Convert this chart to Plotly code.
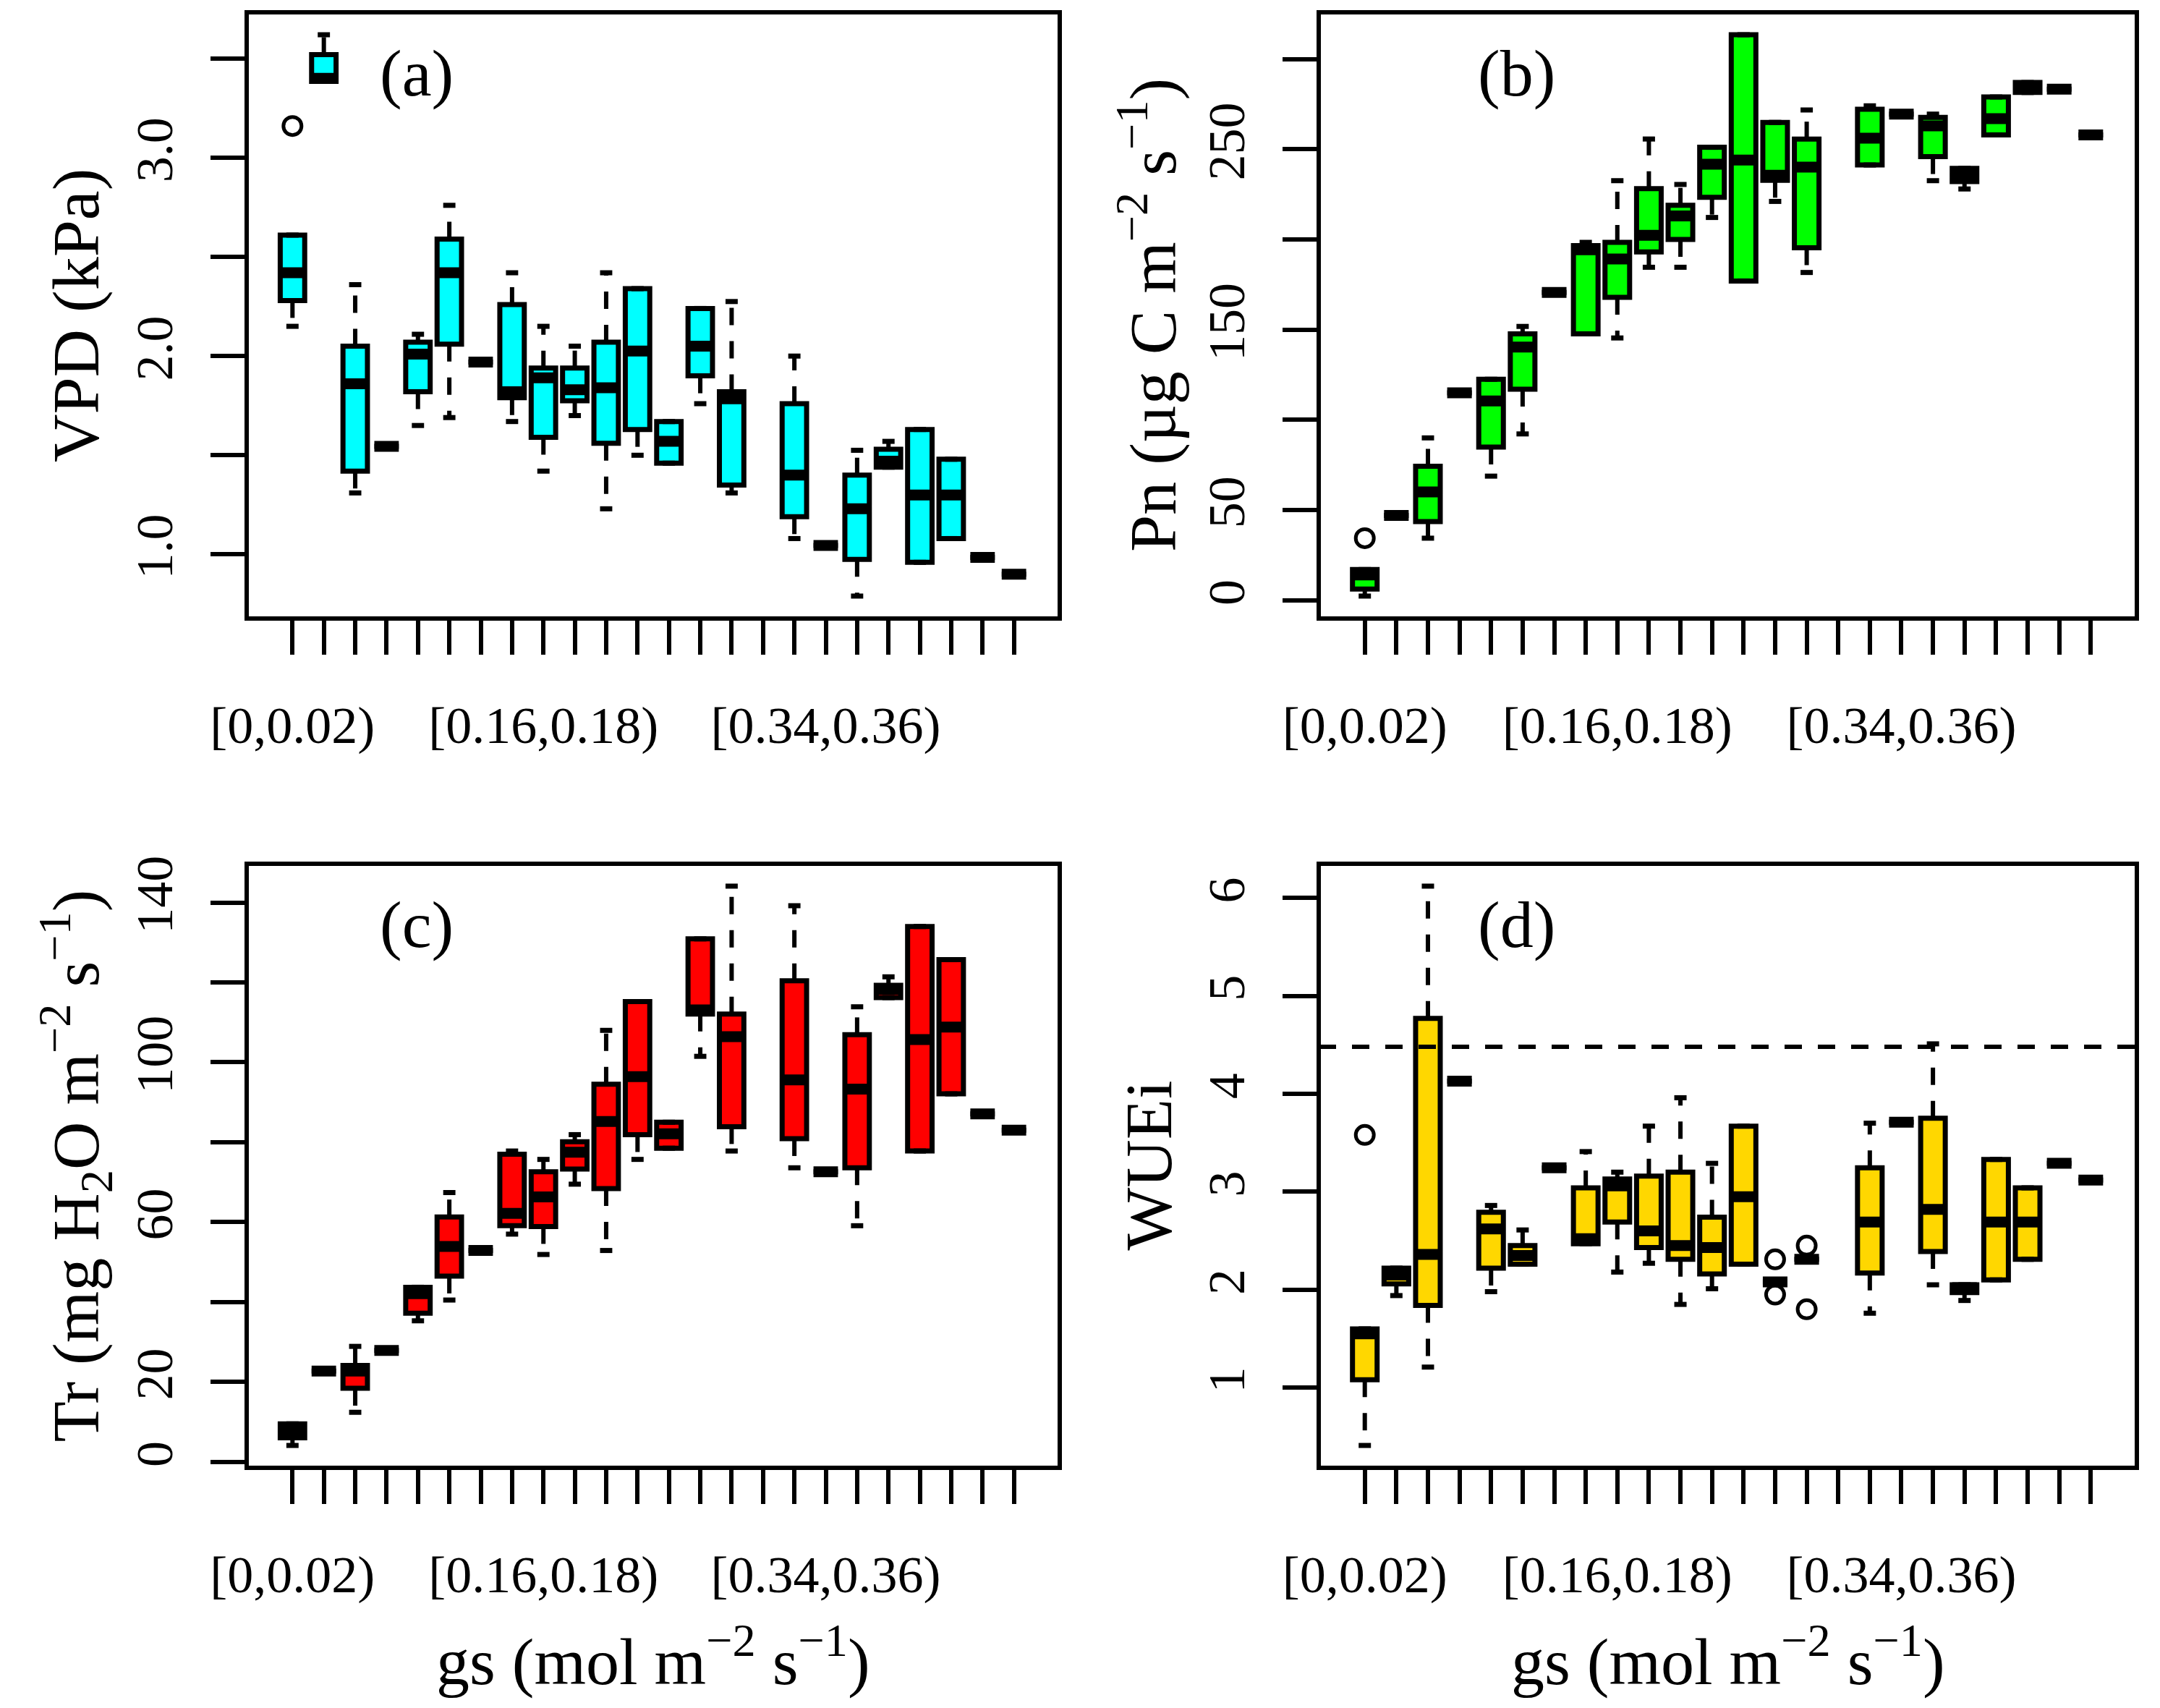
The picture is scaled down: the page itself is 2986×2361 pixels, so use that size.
import plotly.graph_objects as go

# bins of gs, 0.02 wide; the 16th bin is empty in every panel
N_BINS = 24
x_label_pos = [1, 9, 18]
x_labels = ["[0,0.02)", "[0.16,0.18)", "[0.34,0.36)"]

# (a) VPD, kPa
vpd_q1 = [2.28, 3.385, 1.42, 1.545, 1.82, 2.06, 1.97, 1.79, 1.59, 1.775, 1.56, 1.63,
          1.46, 1.90, 1.35, None, 1.19, 1.045, 0.975, 1.44, 0.96, 1.08, 0.985, 0.90]
vpd_med = [2.42, 3.40, 1.86, 1.545, 2.01, 2.42, 1.97, 1.82, 1.89, 1.83, 1.84, 2.025,
           1.57, 2.05, 1.785, None, 1.40, 1.045, 1.23, 1.47, 1.30, 1.30, 0.985, 0.90]
vpd_q3 = [2.61, 3.52, 2.05, 1.545, 2.07, 2.59, 1.97, 2.26, 1.94, 1.94, 2.07, 2.34,
          1.67, 2.24, 1.82, None, 1.76, 1.045, 1.40, 1.53, 1.63, 1.48, 0.985, 0.90]
vpd_lo = [2.15, 3.385, 1.31, 1.545, 1.65, 1.69, 1.97, 1.67, 1.42, 1.70, 1.23, 1.50,
          1.46, 1.76, 1.31, None, 1.08, 1.045, 0.79, 1.44, 0.96, 1.08, 0.985, 0.90]
vpd_hi = [2.61, 3.62, 2.36, 1.545, 2.11, 2.76, 1.97, 2.42, 2.15, 2.05, 2.42, 2.34,
          1.67, 2.24, 2.275, None, 2.00, 1.045, 1.525, 1.57, 1.63, 1.48, 0.985, 0.90]
vpd_out_x = [1]
vpd_out_y = [3.16]
vpd_ticks = [1.0, 1.5, 2.0, 2.5, 3.0, 3.5]
vpd_labels = ["1.0", "2.0", "3.0"]

# (b) Pn
pn_q1 = [6.2, 47, 43.6, 115, 84.9, 117, 170.6, 147.7, 167.9, 193.1, 200, 223.4,
         177, 232.8, 195.4, None, 241.3, 269.5, 245.9, 232.1, 258, 281.5, 283.3, 258]
pn_med = [14, 47, 60, 115, 110.5, 140.4, 170.6, 194.3, 189.2, 202.3, 213, 241.7,
          244, 235.6, 240.1, None, 256.2, 269.5, 263, 235.6, 267, 284.4, 283.3, 258]
pn_q3 = [17, 47, 74.3, 115, 122.5, 147.7, 170.6, 196.6, 198.4, 228.2, 219, 251.1,
         313.5, 264.9, 255.7, None, 272.2, 269.5, 267.7, 239.4, 279, 287, 283.3, 258]
pn_lo = [2.3, 47, 34.4, 115, 68.8, 92.2, 170.6, 147.7, 145.4, 184.6, 184.6, 212.2,
         177, 221.1, 181.7, None, 241.3, 269.5, 232.6, 228, 258, 281.5, 283.3, 258]
pn_hi = [17, 47, 90, 115, 122.5, 151.8, 170.6, 198.4, 232.6, 255.7, 230.5, 251.1,
         313.5, 264.9, 271.8, None, 274.1, 269.5, 269.5, 239.4, 279, 287, 283.3, 258]
pn_out_x = [1]
pn_out_y = [34.4]
pn_ticks = [0, 50, 100, 150, 200, 250, 300]
pn_labels = ["0", "50", "150", "250"]

# (c) Tr
tr_q1 = [6.0, 22.7, 18.4, 27.9, 37.2, 46.5, 52.9, 59.1, 58.9, 73.3, 68.4, 81.9,
         78.5, 112.1, 83.9, None, 80.9, 72.6, 73.6, 116.2, 77.8, 92.1, 87.1, 83]
tr_med = [7.7, 22.7, 22.7, 27.9, 42.1, 53.9, 52.9, 62.2, 66.3, 77.5, 85.2, 96.4,
          82.1, 113.1, 106.4, None, 95.6, 72.6, 93.3, 118.3, 105.7, 108.8, 87.1, 83]
tr_q3 = [9.5, 22.7, 24.1, 27.9, 43.7, 61.3, 52.9, 77, 72.6, 80.1, 94.5, 115.2,
         85, 130.9, 112.1, None, 120.4, 72.6, 106.9, 119.3, 134, 125.7, 87.1, 83]
tr_lo = [4.1, 22.7, 12.4, 27.9, 35.3, 40.5, 52.9, 57, 51.9, 69.5, 52.9, 75.7,
         78.5, 101.5, 77.8, None, 73.6, 72.6, 59.1, 116.2, 77.8, 92.1, 87.1, 83]
tr_hi = [9.5, 22.7, 28.9, 27.9, 43.7, 67.4, 52.9, 77.8, 75.7, 81.9, 108, 115.2,
         85, 130.9, 144.1, None, 139.2, 72.6, 113.9, 121.4, 134, 125.7, 87.1, 83]
tr_out_x = []
tr_out_y = []
tr_ticks = [0, 20, 40, 60, 80, 100, 120, 140]
tr_labels = ["0", "20", "60", "100", "140"]

# (d) WUEi
wue_q1 = [1.08, 2.06, 1.84, 4.13, 2.22, 2.26, 3.245, 2.47, 2.69, 2.43, 2.31, 2.16,
          2.26, 2.08, 2.31, None, 2.17, 3.71, 2.39, 1.97, 2.10, 2.31, 3.29, 3.12]
wue_med = [1.55, 2.15, 2.36, 4.13, 2.62, 2.35, 3.245, 2.52, 3.06, 2.60, 2.45, 2.43,
           2.95, 2.08, 2.31, None, 2.69, 3.71, 2.82, 2.02, 2.69, 2.69, 3.29, 3.12]
wue_q3 = [1.60, 2.22, 4.77, 4.13, 2.79, 2.45, 3.245, 3.04, 3.13, 3.16, 3.20, 2.74,
          3.67, 2.08, 2.31, None, 3.245, 3.71, 3.75, 2.05, 3.33, 3.04, 3.29, 3.12]
wue_lo = [0.41, 1.94, 1.21, 4.13, 1.98, 2.26, 3.245, 2.47, 2.18, 2.27, 1.85, 2.01,
          2.26, 2.08, 2.31, None, 1.76, 3.71, 2.05, 1.89, 2.10, 2.31, 3.29, 3.12]
wue_hi = [1.60, 2.22, 6.12, 4.13, 2.86, 2.61, 3.245, 3.41, 3.20, 3.67, 3.96, 3.29,
          3.67, 2.08, 2.31, None, 3.70, 3.71, 4.51, 2.05, 3.33, 3.04, 3.29, 3.12]
wue_out_x = [1, 14, 14, 15, 15]
wue_out_y = [3.58, 2.31, 1.95, 2.45, 1.80]
wue_ticks = [1, 2, 3, 4, 5, 6]
wue_labels = ["1", "2", "3", "4", "5", "6"]
wue_ref = 4.48

FONT = "Liberation Serif"
BOX_W = 0.78
W, H = 2986, 2361

panels = [
    dict(q1=vpd_q1, med=vpd_med, q3=vpd_q3, lo=vpd_lo, hi=vpd_hi,
         ox=vpd_out_x, oy=vpd_out_y, color="#00FFFF", label="(a)",
         ytitle="VPD (kPa)", yticks=vpd_ticks, ylabels=vpd_labels),
    dict(q1=pn_q1, med=pn_med, q3=pn_q3, lo=pn_lo, hi=pn_hi,
         ox=pn_out_x, oy=pn_out_y, color="#00FF00", label="(b)",
         ytitle="Pn (µg C m<sup>\u22122</sup> s<sup>\u22121</sup>)",
         yticks=pn_ticks, ylabels=pn_labels),
    dict(q1=tr_q1, med=tr_med, q3=tr_q3, lo=tr_lo, hi=tr_hi,
         ox=tr_out_x, oy=tr_out_y, color="#FF0000", label="(c)",
         ytitle="Tr (mg H<sub>2</sub>O m<sup>\u22122</sup> s<sup>\u22121</sup>)",
         yticks=tr_ticks, ylabels=tr_labels),
    dict(q1=wue_q1, med=wue_med, q3=wue_q3, lo=wue_lo, hi=wue_hi,
         ox=wue_out_x, oy=wue_out_y, color="#FFD700", label="(d)",
         ytitle="WUEi", yticks=wue_ticks, ylabels=wue_labels),
]

# plot regions in pixels of the original picture: (left, right, top, bottom)
regions = [(341, 1465, 17, 855), (1823, 2954, 17, 855),
           (341, 1465, 1194, 2029), (1823, 2954, 1194, 2029)]

fig = go.Figure()
layout = {}
annotations = []
shapes = []

tick_style = dict(ticks="outside", ticklen=49, tickwidth=6, tickcolor="black")

for i, (p, reg) in enumerate(zip(panels, regions)):
    n = i + 1
    xa = "x" if n == 1 else f"x{n}"
    ya = "y" if n == 1 else f"y{n}"
    keep = [k for k in range(N_BINS) if p["med"][k] is not None]
    cats = [k + 1 for k in keep]
    q1 = [p["q1"][k] for k in keep]
    med = [p["med"][k] for k in keep]
    q3 = [p["q3"][k] for k in keep]
    lo = [p["lo"][k] for k in keep]
    hi = [p["hi"][k] for k in keep]

    fig.add_trace(go.Box(
        x=cats, q1=q1, median=med, q3=q3, lowerfence=q1, upperfence=q3,
        width=BOX_W, fillcolor=p["color"], line=dict(color="black", width=7),
        boxpoints=False, whiskerwidth=0, showlegend=False, hoverinfo="skip",
        xaxis=xa, yaxis=ya,
    ))

    # dashed whiskers
    wx, wy = [], []
    for c, a, b, l, h in zip(cats, q1, q3, lo, hi):
        wx += [c, c, None, c, c, None]
        wy += [b, h, None, a, l, None]
    fig.add_trace(go.Scatter(
        x=wx, y=wy, mode="lines", line=dict(color="black", width=6, dash="24px,22px"),
        showlegend=False, hoverinfo="skip", xaxis=xa, yaxis=ya,
    ))

    # staples and thick medians
    sx, sy, mx, my = [], [], [], []
    for c, m, l, h in zip(cats, med, lo, hi):
        sx += [c - BOX_W / 4, c + BOX_W / 4, None, c - BOX_W / 4, c + BOX_W / 4, None]
        sy += [h, h, None, l, l, None]
        mx += [c - BOX_W / 2, c + BOX_W / 2, None]
        my += [m, m, None]
    fig.add_trace(go.Scatter(
        x=sx, y=sy, mode="lines", line=dict(color="black", width=7),
        showlegend=False, hoverinfo="skip", xaxis=xa, yaxis=ya,
    ))
    fig.add_trace(go.Scatter(
        x=mx, y=my, mode="lines", line=dict(color="black", width=15),
        showlegend=False, hoverinfo="skip", xaxis=xa, yaxis=ya,
    ))

    if p["ox"]:
        fig.add_trace(go.Scatter(
            x=p["ox"], y=p["oy"], mode="markers",
            marker=dict(symbol="circle-open", size=25, color="black", line=dict(width=5)),
            showlegend=False, hoverinfo="skip", xaxis=xa, yaxis=ya,
        ))

    # R style 4% padding of the data range
    vals = lo + hi + p["oy"]
    vmin, vmax = min(vals), max(vals)
    pad = 0.04 * (vmax - vmin)

    left, right, top, bottom = reg
    common = dict(showgrid=False, zeroline=False, showline=False, automargin=False,
                  tickfont=dict(family=FONT, size=72, color="black"), **tick_style)
    layout["xaxis" if n == 1 else f"xaxis{n}"] = dict(
        domain=[left / W, right / W], anchor=ya,
        range=[0.5 - 0.04 * N_BINS, N_BINS + 0.5 + 0.04 * N_BINS],
        tickvals=x_label_pos, ticktext=x_labels,
        minor=dict(tickvals=list(range(1, N_BINS + 1)), showgrid=False, **tick_style),
        tickangle=0, ticklabelstandoff=36, **common)
    layout["yaxis" if n == 1 else f"yaxis{n}"] = dict(
        domain=[1 - bottom / H, 1 - top / H], anchor=xa,
        range=[vmin - pad, vmax + pad],
        tickvals=[float(s) for s in p["ylabels"]], ticktext=p["ylabels"],
        minor=dict(tickvals=p["yticks"], showgrid=False, **tick_style),
        tickangle=-90, ticklabelstandoff=24, **common)

    shapes.append(dict(type="rect", xref=f"{xa} domain", yref=f"{ya} domain",
                       x0=0, x1=1, y0=0, y1=1, line=dict(color="black", width=6),
                       layer="above"))
    annotations.append(dict(text=p["label"], xref=f"{xa} domain", yref=f"{ya} domain",
                            x=0.209 if n % 2 else 0.242, y=0.90,
                            xanchor="center", yanchor="middle", showarrow=False,
                            font=dict(family=FONT, size=92, color="black")))
    annotations.append(dict(text=p["ytitle"], xref="paper", yref="paper",
                            x=(left - 236) / W, y=1 - (top + bottom) / 2 / H,
                            xanchor="center", yanchor="middle",
                            textangle=-90, showarrow=False,
                            font=dict(family=FONT, size=92, color="black")))
    if n >= 3:
        annotations.append(dict(text="gs (mol m<sup>\u22122</sup> s<sup>\u22121</sup>)",
                                xref="paper", yref="paper",
                                x=(left + right) / 2 / W, y=1 - 2290 / H,
                                xanchor="center", yanchor="middle", showarrow=False,
                                font=dict(family=FONT, size=92, color="black")))

shapes.append(dict(type="line", xref="x4 domain", yref="y4", x0=0, x1=1,
                   y0=wue_ref, y1=wue_ref,
                   line=dict(color="black", width=6, dash="24px,22px")))

fig.update_layout(
    width=W, height=H, margin=dict(l=0, r=0, t=0, b=0, pad=0),
    paper_bgcolor="white", plot_bgcolor="white",
    boxmode="overlay", annotations=annotations, shapes=shapes,
    font=dict(family=FONT, color="black"),
    **layout,
)

fig.write_html("out.html", config={"displayModeBar": False},
               post_script="document.body.style.margin='0';")
